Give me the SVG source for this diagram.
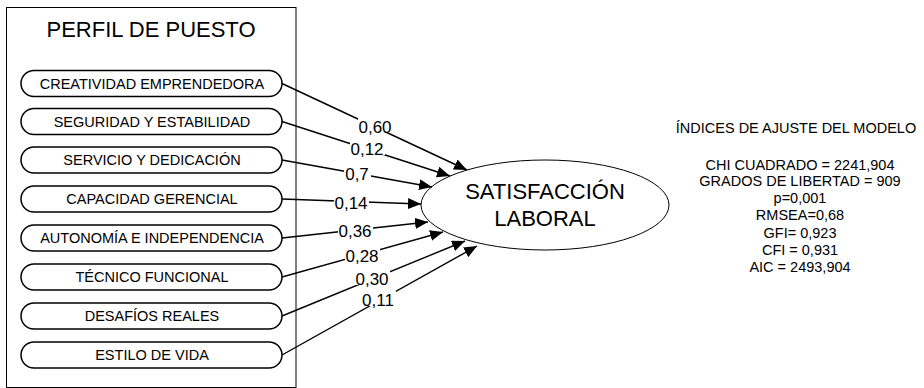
<svg xmlns="http://www.w3.org/2000/svg" width="924" height="388" viewBox="0 0 924 388">
<style>
text{font-family:"Liberation Sans",Arial,sans-serif;fill:#000}
.pill{fill:#fff;stroke:#000;stroke-width:1.5}
.pt{font-size:14.5px;text-anchor:middle}
.conn{stroke:#000;stroke-width:1.4;fill:none;marker-end:url(#arr)}
.lbl{font-size:17px;text-anchor:middle}
.bg{fill:#fff}
.idx{font-size:14.5px;text-anchor:middle}
</style>
<defs>
<marker id="arr" markerUnits="userSpaceOnUse" markerWidth="14" markerHeight="12" refX="13" refY="5.5" orient="auto">
<path d="M0,0 L13,5.5 L0,11 z" fill="#000"/>
</marker>
</defs>
<rect width="924" height="388" fill="#fff"/>
<g id="perfil">
<rect x="6.5" y="7.5" width="289.5" height="380" fill="#fff" stroke="#000" stroke-width="1"/>
<text x="151" y="37" font-size="22" text-anchor="middle">PERFIL DE PUESTO</text>
</g>
<g id="n1"><rect class="pill" x="21" y="70.5" width="261" height="26" rx="13"/><text class="pt" x="152" y="88.5">CREATIVIDAD EMPRENDEDORA</text></g>
<g id="n2"><rect class="pill" x="21" y="108.5" width="261" height="26" rx="13"/><text class="pt" x="152" y="126.5">SEGURIDAD Y ESTABILIDAD</text></g>
<g id="n3"><rect class="pill" x="21" y="147" width="261" height="26" rx="13"/><text class="pt" x="152" y="165">SERVICIO Y DEDICACIÓN</text></g>
<g id="n4"><rect class="pill" x="21" y="186" width="261" height="26" rx="13"/><text class="pt" x="152" y="204">CAPACIDAD GERENCIAL</text></g>
<g id="n5"><rect class="pill" x="21" y="225" width="261" height="26" rx="13"/><text class="pt" x="152" y="243">AUTONOMÍA E INDEPENDENCIA</text></g>
<g id="n6"><rect class="pill" x="21" y="264" width="261" height="26" rx="13"/><text class="pt" x="152" y="282">TÉCNICO FUNCIONAL</text></g>
<g id="n7"><rect class="pill" x="21" y="303" width="261" height="26" rx="13"/><text class="pt" x="152" y="321">DESAFÍOS REALES</text></g>
<g id="n8"><rect class="pill" x="21" y="342" width="261" height="26" rx="13"/><text class="pt" x="152" y="360">ESTILO DE VIDA</text></g>
<g id="satisfaccion">
<ellipse cx="545" cy="205" rx="124" ry="45" fill="#fff" stroke="#000" stroke-width="1"/>
<text x="545" y="199" font-size="22" text-anchor="middle">SATISFACCIÓN</text>
<text x="545" y="226" font-size="22" text-anchor="middle">LABORAL</text>
</g>
<g id="connectors">
<line class="conn" x1="282" y1="83.5" x2="467" y2="170"/>
<line class="conn" x1="282" y1="121.5" x2="450" y2="176"/>
<line class="conn" x1="282" y1="160" x2="432" y2="187"/>
<line class="conn" x1="282" y1="199" x2="421" y2="204"/>
<line class="conn" x1="282" y1="238" x2="428" y2="222"/>
<line class="conn" x1="282" y1="277" x2="443" y2="232"/>
<line class="conn" x1="282" y1="316" x2="465" y2="241"/>
<line class="conn" x1="282" y1="355" x2="477" y2="246"/>
<rect class="bg" x="358" y="118" width="35" height="15"/><text class="lbl" x="375" y="133">0,60</text>
<rect class="bg" x="350" y="140" width="35" height="15"/><text class="lbl" x="367" y="155">0,12</text>
<rect class="bg" x="344" y="165" width="27" height="15"/><text class="lbl" x="357" y="180">0,7</text>
<rect class="bg" x="334" y="194" width="35" height="15"/><text class="lbl" x="351" y="209">0,14</text>
<rect class="bg" x="338" y="222" width="35" height="15"/><text class="lbl" x="355" y="237">0,36</text>
<rect class="bg" x="345" y="247" width="35" height="15"/><text class="lbl" x="362" y="262">0,28</text>
<rect class="bg" x="355" y="270" width="35" height="15"/><text class="lbl" x="372" y="285">0,30</text>
<rect class="bg" x="361" y="291" width="35" height="15"/><text class="lbl" x="378" y="306">0,11</text>
</g>
<g id="indices">
<text class="idx" x="796" y="132.5">ÍNDICES DE AJUSTE DEL MODELO</text>
<text class="idx" x="800" y="169.5">CHI CUADRADO = 2241,904</text>
<text class="idx" x="800" y="186">GRADOS DE LIBERTAD = 909</text>
<text class="idx" x="800" y="203">p=0,001</text>
<text class="idx" x="800" y="220">RMSEA=0,68</text>
<text class="idx" x="800" y="237.5">GFI= 0,923</text>
<text class="idx" x="800" y="254.5">CFI = 0,931</text>
<text class="idx" x="800" y="271.5">AIC = 2493,904</text>
</g>
</svg>
